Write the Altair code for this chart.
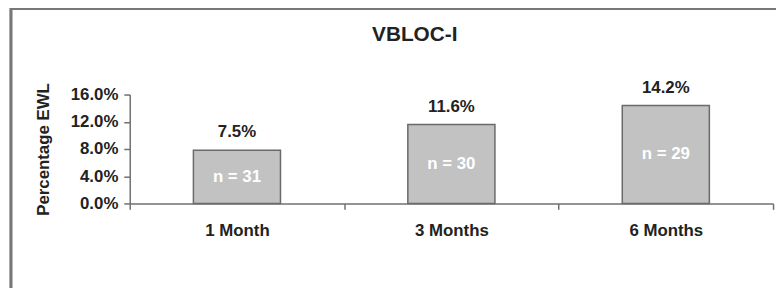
import altair as alt
import pandas as pd

categories = ["1 Month", "3 Months", "6 Months"]
bar_values = [0.078, 0.116, 0.144]
value_labels = ["7.5%", "11.6%", "14.2%"]
n_labels = ["n = 31", "n = 30", "n = 29"]
y_ticks = [0.0, 0.04, 0.08, 0.12, 0.16]

df = pd.DataFrame({
    "cat": categories,
    "val": bar_values,
    "vlabel": value_labels,
    "nlabel": n_labels,
})
df["mid"] = df["val"] / 2

FONT = "Liberation Sans"

x_axis = alt.Axis(labelAngle=0, tickBand="extent", tickSize=6,
                  labelPadding=13, labelFontSize=17, labelFontWeight="bold",
                  labelFont=FONT, labelColor="#222", domainColor="#707070",
                  tickColor="#707070", domainWidth=1.5, tickWidth=1.5, grid=False)
x_scale = alt.Scale(paddingInner=0, paddingOuter=0)
y_axis = alt.Axis(values=y_ticks, format=".1%", tickSize=6, labelPadding=6,
                  labelOverlap=False, labelFlush=False,
                  labelFontSize=17, labelFontWeight="bold", labelFont=FONT,
                  labelColor="#222", titleFont=FONT, titleFontSize=17,
                  titleFontWeight="bold", titleColor="#222", titlePadding=18,
                  domainColor="#707070", tickColor="#707070",
                  domainWidth=1.5, tickWidth=1.5, grid=False)
y_scale = alt.Scale(domain=[0, 0.16], nice=False)


def X():
    return alt.X("cat:N", sort=categories, title=None, scale=x_scale, axis=x_axis)


def Y(field):
    return alt.Y(field, type="quantitative", scale=y_scale, title="Percentage EWL", axis=y_axis)


base = alt.Chart(df)

bars = base.mark_bar(width=88, color="#c2c2c2", stroke="#6a6a6a", strokeWidth=1.5).encode(
    x=X(), y=Y("val"),
)

vtext = base.mark_text(dy=-18, font=FONT, fontSize=17, fontWeight="bold", color="#222").encode(
    x=X(), y=Y("val"), text="vlabel:N",
)

ntext = base.mark_text(font=FONT, fontSize=17, fontWeight="bold", color="#ffffff").encode(
    x=X(), y=Y("mid"), text="nlabel:N",
)

frame = base.mark_rect(fill=None, stroke="#777777", strokeWidth=2.5).encode(
    x=alt.value(-120), x2=alt.value(800), y=alt.value(-87), y2=alt.value(400)
)

chart = alt.layer(frame, bars, vtext, ntext).properties(
    width=650, height=110,
    title=alt.TitleParams("VBLOC-I", font=FONT, fontSize=21, fontWeight="bold",
                          color="#222", anchor="middle", frame="group", dx=-37, offset=-38),
    autosize=alt.AutoSizeParams(type="none"),
    padding={"left": 123, "top": 86, "right": 3, "bottom": 84},
).configure_view(stroke=None)

chart.save("out.html", embed_options={"renderer": "svg", "actions": False})
